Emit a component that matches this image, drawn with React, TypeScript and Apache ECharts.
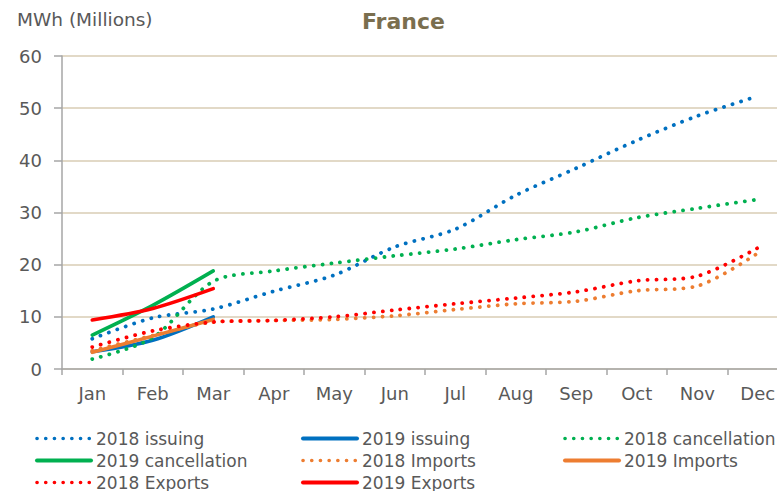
import React, { useEffect, useRef } from "react";
import * as echarts from "echarts";

const months = ["Jan", "Feb", "Mar", "Apr", "May", "Jun", "Jul", "Aug", "Sep", "Oct", "Nov", "Dec"];
const issuing2018 = [5.8, 9.8, 11.5, 14.9, 18.0, 23.4, 26.8, 33.3, 38.5, 43.8, 48.5, 52.3];
const issuing2019 = [3.3, 5.5, 10.0];
const cancellation2018 = [1.9, 6.0, 16.8, 18.8, 20.3, 21.7, 23.0, 24.8, 26.3, 29.0, 30.8, 32.5];
const cancellation2019 = [6.5, 12.2, 18.8];
const imports2018 = [3.5, 6.4, 9.0, 9.3, 9.5, 10.2, 11.4, 12.5, 13.0, 15.0, 15.9, 22.2];
const imports2019 = [3.2, 6.3, 9.5];
const exports2018 = [4.2, 7.3, 9.0, 9.3, 10.0, 11.3, 12.5, 13.6, 14.8, 16.9, 17.8, 23.2];
const exports2019 = [9.4, 11.6, 15.4];

const BLUE = "#0070C0";
const GREEN = "#00B050";
const ORANGE = "#ED7D31";
const RED = "#FF0000";
const FONT = "DejaVu Sans";
const TXT = "#595959";

function dotted(name: string, data: number[], color: string) {
  return {
    name,
    type: "line",
    data,
    smooth: 0.3,
    symbol: "none",
    color,
    lineStyle: { color, width: 3.8, type: [0.1, 8.8], cap: "round" },
  };
}
function solid(name: string, data: number[], color: string) {
  return {
    name,
    type: "line",
    data,
    smooth: 0.3,
    symbol: "none",
    color,
    lineStyle: { color, width: 3.6, type: "solid", cap: "round" },
  };
}

const legendBase = {
  orient: "vertical",
  top: 430,
  height: 80,
  padding: 0,
  itemWidth: 54,
  itemHeight: 14,
  itemGap: 5,
  selectedMode: false,
  itemStyle: { opacity: 0 },
  lineStyle: { width: 4 },
  textStyle: { color: TXT, fontSize: 17, fontFamily: FONT, lineHeight: 17 },
};
const dotLeg = (name: string) => ({ name, lineStyle: { type: [0.1, 8.6], width: 3.6, cap: "round" } });

export default function App() {
  const ref = useRef<HTMLDivElement>(null);
  useEffect(() => {
    if (!ref.current) return;
    const chart = echarts.init(ref.current, undefined, { renderer: "svg" });
    chart.setOption({
      animation: false,
      backgroundColor: "#ffffff",
      title: {
        text: "France",
        left: 357,
        top: 5,
        textStyle: { fontSize: 22, fontWeight: "bold", color: "#7a6e4e", fontFamily: FONT },
      },
      graphic: [
        {
          type: "text",
          x: 17,
          y: 11,
          scaleX: 1.09,
          style: { text: "MWh (Millions)", fontSize: 17, fontFamily: FONT, fill: TXT, textVerticalAlign: "top" },
        },
      ],
      legend: [
        { ...legendBase, left: 35, data: [dotLeg("2018 issuing"), "2019 cancellation", dotLeg("2018 Exports")] },
        { ...legendBase, left: 301, data: ["2019 issuing", dotLeg("2018 Imports"), "2019 Exports"] },
        { ...legendBase, left: 563, data: [dotLeg("2018 cancellation"), "2019 Imports"] },
      ],
      grid: { left: 62, top: 56, width: 726, height: 313, containLabel: false },
      xAxis: {
        type: "category",
        data: months,
        boundaryGap: true,
        axisLine: { show: true, lineStyle: { color: "#a6a6a6", width: 1.5 } },
        axisTick: { show: true, length: 6, lineStyle: { color: "#a6a6a6", width: 1.5 } },
        axisLabel: { color: TXT, fontSize: 18, fontFamily: FONT, margin: 15 },
        splitLine: { show: false },
      },
      yAxis: {
        type: "value",
        min: 0,
        max: 60,
        interval: 10,
        axisLine: { show: true, lineStyle: { color: "#a6a6a6", width: 1.5 } },
        axisTick: { show: true, length: 8, lineStyle: { color: "#a6a6a6", width: 1.5 } },
        axisLabel: { color: TXT, fontSize: 18, fontFamily: FONT, margin: 20 },
        splitLine: { show: true, lineStyle: { color: "#d9cdb5", width: 1.5 } },
      },
      series: [
        dotted("2018 issuing", issuing2018, BLUE),
        solid("2019 issuing", issuing2019, BLUE),
        dotted("2018 cancellation", cancellation2018, GREEN),
        solid("2019 cancellation", cancellation2019, GREEN),
        dotted("2018 Imports", imports2018, ORANGE),
        solid("2019 Imports", imports2019, ORANGE),
        dotted("2018 Exports", exports2018, RED),
        solid("2019 Exports", exports2019, RED),
      ],
    });
    return () => chart.dispose();
  }, []);
  return (
    <div style={{ position: "absolute", left: 0, top: 0, width: 777, height: 491, overflow: "hidden", background: "#fff" }}>
      <div ref={ref} style={{ width: 800, height: 491 }} />
    </div>
  );
}
